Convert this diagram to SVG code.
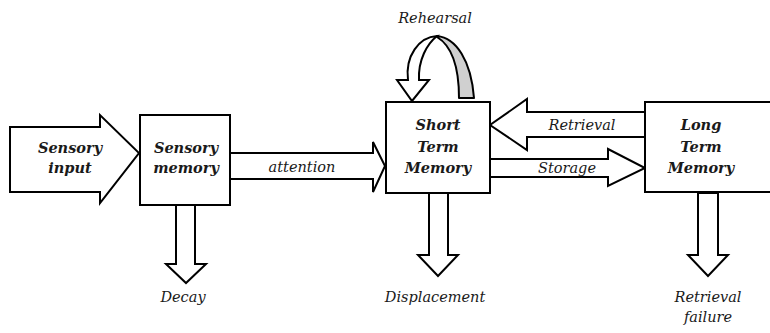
<svg xmlns="http://www.w3.org/2000/svg" width="770" height="333" viewBox="0 0 770 333">
<style>
.s{fill:#fff;stroke:#000;stroke-width:2;stroke-linejoin:miter}
.t{font-family:'DejaVu Serif','Liberation Serif',serif;font-style:italic;font-size:14.5px;fill:#1a1a1a;text-anchor:middle}
.b{font-weight:bold}
</style>
<rect width="770" height="333" fill="#fff"/>
<g id="connectors">
<polygon class="s" points="10,127 100,127 100,115 139,153 100,203 100,192 10,192"/>
<polygon class="s" points="230,153 373,153 373,142 385,166 373,192 373,179 230,179"/>
<polygon class="s" points="645,112 527,112 527,99 490,125 527,150 527,137 645,137"/>
<polygon class="s" points="490,159 608,159 608,149 645,168 608,186 608,177 490,177"/>
<polygon class="s" points="176,205 195,205 195,264 206,264 186,283 166,264 176,264"/>
<polygon class="s" points="429,193 448,193 448,255 458,255 438,276 418,255 429,255"/>
<polygon class="s" points="698,193 718,193 718,255 728,255 708,276 688,255 698,255"/>
<g id="rehearsal">
<path d="M437,36 C456,38 471,60 474,98 L459,98 C459,68 452,46 437,37 Z" fill="#d0d0d0" stroke="#000" stroke-width="2" stroke-linejoin="round"/>
<path class="s" d="M408,80 C405,56 419,37 437,36 C427,44 418,60 419,80 L429,80 L412,101 L397,80 Z"/>
</g>
</g>
<g id="sensory-input">
<text class="t b" x="70" y="153">Sensory</text>
<text class="t b" x="70" y="173">input</text>
</g>
<g id="sensory-memory">
<rect class="s" x="140" y="115" width="90" height="90"/>
<text class="t b" x="186" y="153">Sensory</text>
<text class="t b" x="186" y="173">memory</text>
</g>
<g id="stm">
<rect class="s" x="386" y="102" width="104" height="91"/>
<text class="t b" x="438" y="130">Short</text>
<text class="t b" x="438" y="152">Term</text>
<text class="t b" x="438" y="173">Memory</text>
</g>
<g id="ltm">
<rect class="s" x="645" y="102" width="130" height="90"/>
<text class="t b" x="701" y="130">Long</text>
<text class="t b" x="701" y="152">Term</text>
<text class="t b" x="701" y="173">Memory</text>
</g>
<g id="labels">
<text class="t" x="302" y="172">attention</text>
<text class="t" x="582" y="130">Retrieval</text>
<text class="t" x="567" y="173">Storage</text>
<text class="t" x="435" y="23">Rehearsal</text>
<text class="t" x="183" y="302">Decay</text>
<text class="t" x="435" y="302">Displacement</text>
<text class="t" x="708" y="302">Retrieval</text>
<text class="t" x="708" y="322">failure</text>
</g>
</svg>
